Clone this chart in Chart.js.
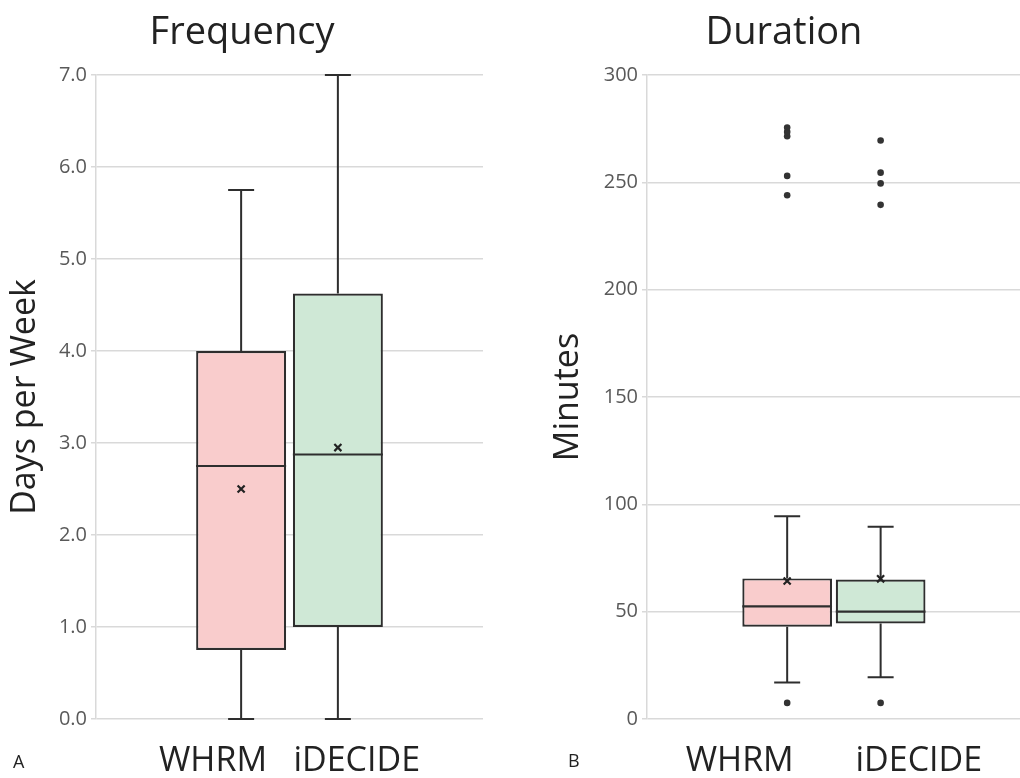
<!DOCTYPE html>
<html>
<head>
<meta charset="utf-8">
<script src="https://cdn.jsdelivr.net/npm/chart.js@4.4.1/dist/chart.umd.min.js"></script>
<style>
  html, body { margin: 0; padding: 0; background: #fff; overflow: hidden; }
  body { width: 1020px; height: 778px; position: relative; }
  canvas { position: absolute; top: 0; }
  .tag { position: absolute; font: 18px "Open Sans", sans-serif; line-height: 18px; color: #222; }
</style>
</head>
<body>
<canvas id="freq" width="510" height="778" style="left:1px"></canvas>
<canvas id="dur" width="488" height="778" style="left:540px"></canvas>
<div class="tag" style="left:13px;top:752px">A</div>
<div class="tag" style="left:568px;top:751px">B</div>
<script>
// groups
const groups = ["WHRM", "iDECIDE"];
const fills = ["#f9cccc", "#cfe8d6"];

// Frequency (days per week)
const freqMin = [0, 0];
const freqQ1 = [0.75, 1.0];
const freqMedian = [2.75, 2.875];
const freqQ3 = [4.0, 4.625];
const freqMax = [5.75, 7.0];
const freqMean = [2.5, 2.95];
const freqOutliers = [[], []];

// Duration (minutes)
const durMin = [17, 19.5];
const durQ1 = [43, 44.5];
const durMedian = [52.5, 50];
const durQ3 = [65.5, 65];
const durMax = [94.5, 89.5];
const durMean = [64.3, 65.3];
const durOutliersWHRM = [7.5, 244, 253, 271.5, 273.5, 275.5];
const durOutliersIDECIDE = [7.5, 239.5, 249.5, 254.5, 269.5];

const FONT = "'Open Sans', sans-serif";
const INK = "#2e2e2e";

// empty slots either side so the two boxes sit in the middle
const slots = ["", ...groups, ""];

const boxPlugin = {
  id: "boxWhisker",
  beforeDatasetsDraw(chart, args, opts) {
    const { ctx, scales: { x, y } } = chart;
    ctx.save();
    ctx.strokeStyle = INK; ctx.lineWidth = 2;
    opts.min.forEach((mn, i) => {
      const cx = x.getPixelForValue(i + 1);
      const lo = y.getPixelForValue(mn), hi = y.getPixelForValue(opts.max[i]);
      const q1 = y.getPixelForValue(opts.q1[i]), q3 = y.getPixelForValue(opts.q3[i]);
      ctx.beginPath();
      ctx.moveTo(cx, q3); ctx.lineTo(cx, hi);
      ctx.moveTo(cx - 13, hi); ctx.lineTo(cx + 13, hi);
      ctx.moveTo(cx, q1); ctx.lineTo(cx, lo);
      ctx.moveTo(cx - 13, lo); ctx.lineTo(cx + 13, lo);
      ctx.stroke();
    });
    ctx.restore();
  },
  afterDatasetDraw(chart, args, opts) {
    if (args.index !== 0) return;
    const { ctx } = chart;
    const y = chart.scales.y;
    const bars = args.meta.data;
    ctx.save();
    ctx.strokeStyle = INK; ctx.lineWidth = 2.2;
    opts.median.forEach((m, i) => {
      const bar = bars[i + 1];
      const py = y.getPixelForValue(m);
      const half = bar.width / 2;
      ctx.beginPath();
      ctx.moveTo(bar.x - half, py); ctx.lineTo(bar.x + half, py);
      ctx.stroke();
    });
    ctx.restore();
  }
};

function makeChart(id, cfg) {
  const boxes = [null, ...cfg.q1.map((v, i) => [v, cfg.q3[i]]), null];
  const outlierPts = [];
  cfg.outliers.forEach((list, i) => list.forEach(v => outlierPts.push({ x: groups[i], y: v })));
  return new Chart(document.getElementById(id), {
    data: {
      labels: slots,
      datasets: [
        {
          type: "bar", data: boxes, order: 2,
          backgroundColor: ["transparent", ...fills, "transparent"],
          borderColor: INK, borderWidth: 2.2, borderSkipped: false,
          barPercentage: cfg.barPct, categoryPercentage: 1, grouped: false
        },
        {
          type: "line", data: [null, ...cfg.mean, null], order: 1, showLine: false,
          pointStyle: "crossRot", pointRadius: 5, borderColor: "#222", borderWidth: 2.2
        },
        {
          type: "line", data: outlierPts, order: 1, showLine: false,
          pointStyle: "circle", pointRadius: 3.3, backgroundColor: "#333", borderColor: "#333", borderWidth: 0
        }
      ]
    },
    options: {
      responsive: false, animation: false, events: [],
      layout: { padding: { left: 0, right: cfg.padRight, top: 0, bottom: 0 } },
      plugins: {
        legend: { display: false },
        tooltip: { enabled: false },
        title: {
          display: true, text: cfg.title, color: "#222",
          font: { family: FONT, size: 38, weight: "normal", lineHeight: 1.2 },
          padding: { top: 10, bottom: 19.4 }
        },
        boxWhisker: { min: cfg.min, q1: cfg.q1, median: cfg.median, q3: cfg.q3, max: cfg.max }
      },
      scales: {
        x: {
          type: "category", offset: true,
          grid: { display: false }, border: { display: false },
          ticks: { display: false },
          title: {
            display: true, text: cfg.xTitle, color: "#222",
            font: { family: FONT, size: 34, lineHeight: 1 },
            padding: { top: 17, bottom: 0 }
          }
        },
        y: {
          min: cfg.yMin, max: cfg.yMax,
          afterFit: s => { s.width = cfg.axisWidth; },
          grid: { color: "#d9d9d9", lineWidth: 1.5, tickLength: 5 },
          border: { display: true, color: "#d9d9d9", width: 1.5 },
          ticks: {
            stepSize: cfg.step, padding: 4, color: "#595959",
            font: { family: FONT, size: 20 },
            callback: cfg.tickFmt
          },
          title: {
            display: true, text: cfg.yTitle, color: "#222",
            font: { family: FONT, size: 34, lineHeight: 1 },
            padding: { top: cfg.yTitlePad, bottom: 0 }
          }
        }
      }
    },
    plugins: [boxPlugin]
  });
}

makeChart("freq", {
  title: "Frequency", yTitle: "Days per Week", xTitle: "WHRM   iDECIDE",
  min: freqMin, q1: freqQ1, median: freqMedian, q3: freqQ3, max: freqMax,
  mean: freqMean, outliers: freqOutliers,
  yMin: 0, yMax: 7, step: 1, tickFmt: v => v.toFixed(1),
  axisWidth: 95, padRight: 28, yTitlePad: 7, barPct: 0.93
});

makeChart("dur", {
  title: "Duration", yTitle: "Minutes", xTitle: "WHRM       iDECIDE",
  min: durMin, q1: durQ1, median: durMedian, q3: durQ3, max: durMax,
  mean: durMean, outliers: [durOutliersWHRM, durOutliersIDECIDE],
  yMin: 0, yMax: 300, step: 50, tickFmt: v => v,
  axisWidth: 107, padRight: 0, yTitlePad: 11, barPct: 0.96
});
</script>
</body>
</html>
